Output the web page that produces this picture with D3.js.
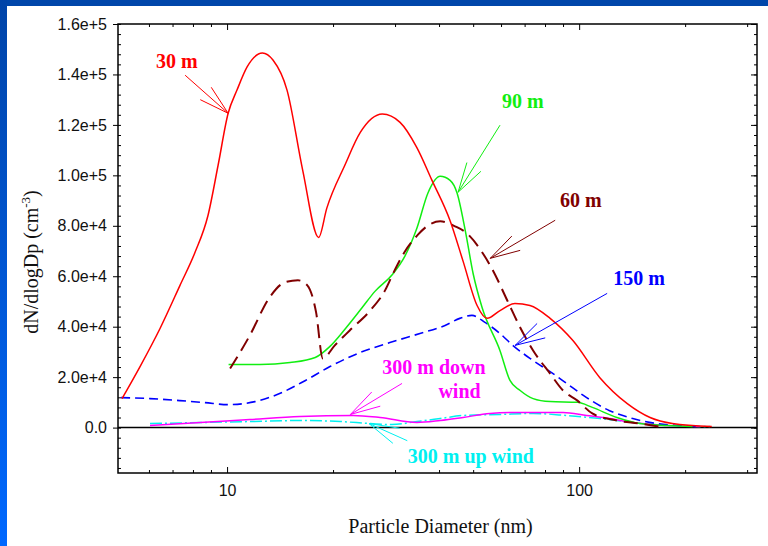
<!DOCTYPE html>
<html>
<head>
<meta charset="utf-8">
<script src="https://cdn.jsdelivr.net/npm/d3@7"></script>
<style>
  body { margin: 0; background: #fff; }
  svg { display: block; }
</style>
</head>
<body>
<svg id="chart" width="768" height="546"></svg>
<script>
// particle size distributions at several distances
var diam30 = [5.03, 5.66, 6.45, 7.35, 8.11, 8.83, 9.43, 10.07, 10.67, 11.4, 12.6, 13.5, 14.8, 16.4, 18.2, 19.2, 21.6, 23.9, 27.6, 31, 34.6, 38.2, 43, 46.8, 51.3, 54.8, 59.6, 65.7, 72.5, 82.7, 96, 114.5, 137, 159, 184, 238];
var n30 = [11500, 24200, 39300, 56400, 69500, 84200, 104000, 124600, 133800, 143000, 148500, 145700, 133800, 102000, 75400, 87000, 104000, 117000, 124300, 121000, 111000, 98000, 82000, 66000, 48400, 43300, 46400, 49200, 48400, 43300, 34500, 19800, 9500, 4000, 1600, 400];

var diam60 = [10.2, 11.6, 13.2, 14.6, 15.9, 16.9, 17.9, 18.7, 20.2, 22.3, 25.5, 28.1, 29.6, 31.9, 34.9, 37.7, 40.3, 44.4, 48, 53.3, 56.9, 62.5, 68, 74, 82.7, 90, 98.9, 109, 128, 149, 169];
var n60 = [23400, 36500, 51600, 57600, 58400, 56400, 45700, 27400, 32500, 38500, 46400, 54400, 61000, 69500, 76600, 80600, 81800, 79800, 77000, 69000, 62300, 50400, 39700, 30600, 21400, 14700, 10700, 5600, 2800, 1600, 400];

var diam90 = [10.1, 12.4, 15.1, 17.8, 19.6, 21.7, 24.2, 26.3, 29.6, 32.0, 34.6, 37.2, 40.3, 43, 45, 47.5, 50, 53, 59.6, 63.6, 68, 74, 82.7, 98.9, 109, 128, 149, 178, 210];
var n90 = [25000, 25000, 25800, 27800, 32200, 39300, 47600, 54000, 61000, 68000, 79000, 93000, 99600, 98000, 93000, 78000, 61000, 47600, 30500, 18700, 14700, 11500, 10300, 10000, 8000, 4000, 1600, 800, 400];

var diam150 = [5.0, 6.04, 7.35, 8.66, 10.07, 12, 14.1, 16.7, 19.6, 23.9, 29.0, 35.3, 41.6, 45.8, 49.6, 54, 59.6, 64.9, 74, 84.3, 92.2, 105, 122, 142, 166, 193, 220];
var n150 = [11900, 11500, 10700, 9900, 9100, 10300, 13500, 18700, 24200, 29800, 33700, 37300, 40500, 43300, 44500, 41700, 37300, 32500, 26600, 21400, 17500, 11900, 6700, 3600, 1600, 800, 400];

var diamDown = [6.04, 8.4, 11.6, 16.1, 22.8, 27.2, 34.6, 40.3, 46.8, 55.8, 68, 90, 105, 122, 142, 178, 220];
var nDown = [800, 2000, 3200, 4400, 4800, 4000, 2000, 2800, 4000, 5600, 6000, 6000, 4800, 3600, 2000, 800, 400];

var diamUp = [6.04, 8.4, 11.6, 16.1, 21, 25.5, 29.4, 34.6, 40.3, 46.8, 59.6, 74, 92, 114.5, 142, 178, 235];
var nUp = [1600, 2000, 2400, 2800, 2400, 1600, 1200, 2400, 3600, 4800, 5200, 5600, 4800, 3600, 2000, 800, 400];

// ticks
var xMajorTicks = [10, 100];
var xTickLabels = ["10", "100"];
var xMinorTicks = [6, 7, 8, 9, 20, 30, 40, 50, 60, 70, 80, 90, 200, 300];
var yMajorTicks = [0, 20000, 40000, 60000, 80000, 100000, 120000, 140000, 160000];
var yTickLabels = ["0.0", "2.0e+4", "4.0e+4", "6.0e+4", "8.0e+4", "1.0e+5", "1.2e+5", "1.4e+5", "1.6e+5"];
var yMinorTicks = d3.range(-16000, 160001, 4000);

var width = 768, height = 546;
var margin = {top: 24, right: 11, bottom: 73, left: 118};

var svg = d3.select("#chart");

// blue slide frame
var grad = svg.append("defs").append("linearGradient")
    .attr("id", "edge").attr("x1", 0).attr("y1", 0).attr("x2", 0).attr("y2", 1);
grad.append("stop").attr("offset", "0%").attr("stop-color", "#0044a8");
grad.append("stop").attr("offset", "100%").attr("stop-color", "#0068ff");
svg.append("rect").attr("x", 0).attr("y", 0).attr("width", width).attr("height", 6).attr("fill", "#0046aa");
svg.append("rect").attr("x", 0).attr("y", 0).attr("width", 7).attr("height", height).attr("fill", "url(#edge)");

var x = d3.scaleLog().domain([4.9, 320]).range([margin.left, width - margin.right]);
var y = d3.scaleLinear().domain([-18000, 160000]).range([height - margin.bottom, margin.top]);

var x0 = x.range()[0], x1 = x.range()[1], y0 = y.range()[0], y1 = y.range()[1];

// minor ticks, all inward
function noDomain(g) { g.select(".domain").remove(); g.selectAll("line").attr("stroke", "#000"); }

svg.append("g").attr("transform", "translate(0," + y0 + ")")
    .call(d3.axisBottom(x).tickValues(xMinorTicks).tickSize(-3).tickFormat(""))
    .call(noDomain);
svg.append("g").attr("transform", "translate(0," + y1 + ")")
    .call(d3.axisTop(x).tickValues(xMinorTicks).tickSize(-3).tickFormat(""))
    .call(noDomain);
svg.append("g").attr("transform", "translate(0," + y1 + ")")
    .call(d3.axisTop(x).tickValues(xMajorTicks).tickSize(-6).tickFormat(""))
    .call(noDomain);
svg.append("g").attr("transform", "translate(" + x0 + ",0)")
    .call(d3.axisLeft(y).tickValues(yMinorTicks).tickSize(-3).tickFormat(""))
    .call(noDomain);
svg.append("g").attr("transform", "translate(" + x1 + ",0)")
    .call(d3.axisRight(y).tickValues(yMinorTicks).tickSize(-3).tickFormat(""))
    .call(noDomain);
svg.append("g").attr("transform", "translate(" + x1 + ",0)")
    .call(d3.axisRight(y).tickValues(yMajorTicks).tickSize(-6).tickFormat(""))
    .call(noDomain);

// labelled axes
var xAxis = svg.append("g").attr("transform", "translate(0," + y0 + ")")
    .call(d3.axisBottom(x).tickValues(xMajorTicks).tickSize(-6).tickPadding(12)
        .tickFormat(function(d, i) { return xTickLabels[i]; }))
    .call(noDomain);
var yAxis = svg.append("g").attr("transform", "translate(" + x0 + ",0)")
    .call(d3.axisLeft(y).tickValues(yMajorTicks).tickSize(5).tickPadding(6)
        .tickFormat(function(d, i) { return yTickLabels[i]; }))
    .call(noDomain);
[xAxis, yAxis].forEach(function(g) {
    g.attr("font-family", "'Liberation Sans', Arial, sans-serif").attr("font-size", 16);
    g.selectAll("text").attr("fill", "#111");
});

// frame and zero line
svg.append("rect")
    .attr("x", x0).attr("y", y1).attr("width", x1 - x0).attr("height", y0 - y1)
    .attr("fill", "none").attr("stroke", "#000").attr("stroke-width", 1.5);
svg.append("line")
    .attr("x1", x0).attr("x2", x1).attr("y1", y(0)).attr("y2", y(0))
    .attr("stroke", "#000").attr("stroke-width", 1.5);

// curves
var series = [
    {d: diamUp, n: nUp, color: "#00f0f0", width: 1.5, dash: "12 3 2 3"},
    {d: diamDown, n: nDown, color: "#ff00ff", width: 1.5, dash: null},
    {d: diam150, n: n150, color: "#0000ff", width: 1.6, dash: "9 5"},
    {d: diam90, n: n90, color: "#11ee11", width: 1.5, dash: null},
    {d: diam60, n: n60, color: "#800000", width: 2, dash: "14 7"},
    {d: diam30, n: n30, color: "#ff0000", width: 1.5, dash: null}
];

var line = d3.line()
    .x(function(p) { return x(p[0]); })
    .y(function(p) { return y(p[1]); })
    .curve(d3.curveMonotoneX);

svg.selectAll("path.curve")
    .data(series)
    .join("path")
    .attr("class", "curve")
    .attr("d", function(s) { return line(d3.zip(s.d, s.n)); })
    .attr("fill", "none")
    .attr("stroke", function(s) { return s.color; })
    .attr("stroke-width", function(s) { return s.width; })
    .attr("stroke-dasharray", function(s) { return s.dash; });

// annotations, placed in data units: label start, arrow tail, arrow tip
var notes = [
    {text: ["30 m"], color: "#ff0000", at: [6.28, 142500], tail: [7.6, 139700], tip: [10.07, 124600]},
    {text: ["90 m"], color: "#11ee11", at: [60.4, 126600], tail: [59.6, 119900], tip: [45.3, 93300]},
    {text: ["60 m"], color: "#800000", at: [88.3, 87300], tail: [85.5, 82200], tip: [55.9, 67100]},
    {text: ["150 m"], color: "#0000ff", at: [124.9, 56400], tail: [120.1, 53200], tip: [65.8, 32600]},
    {text: ["300 m down", "wind"], color: "#ff00ff", at: [27.6, 21400], tail: [31.4, 17500], tip: [22.4, 5200]},
    {text: ["300 m up wind"], color: "#00f0f0", at: [32.6, -13900], tail: [32.5, -5200], tip: [25.3, 1600]}
];

notes.forEach(function(a) {
    var tx = x(a.tip[0]), ty = y(a.tip[1]);
    var sx = x(a.tail[0]), sy = y(a.tail[1]);
    var ang = Math.atan2(sy - ty, sx - tx);
    var g = svg.append("g").attr("stroke", a.color).attr("stroke-width", 1);
    g.append("line").attr("x1", sx).attr("y1", sy).attr("x2", tx).attr("y2", ty);
    [-0.27, 0.27].forEach(function(da) {
        g.append("line")
            .attr("x1", tx).attr("y1", ty)
            .attr("x2", tx + 31 * Math.cos(ang + da))
            .attr("y2", ty + 31 * Math.sin(ang + da));
    });
    var t = svg.append("text")
        .attr("font-family", "'Liberation Serif', 'Times New Roman', serif")
        .attr("font-weight", "bold")
        .attr("font-size", 20)
        .attr("fill", a.color);
    a.text.forEach(function(s, i) {
        t.append("tspan")
            .attr("x", i === 0 ? x(a.at[0]) : null)
            .attr("y", y(a.at[1]) + i * 24)
            .text(s);
    });
    if (a.text.length > 1) {
        // second line right aligned with the first
        var first = t.select("tspan").node().getComputedTextLength();
        var second = t.selectAll("tspan").filter(function(d, i) { return i === 1; });
        second.attr("x", x(a.at[0]) + first - second.node().getComputedTextLength() - 5);
    }
});

// axis titles
svg.append("text")
    .attr("x", (x0 + x1) / 2 + 3).attr("y", 533)
    .attr("text-anchor", "middle")
    .attr("font-family", "'Liberation Serif', 'Times New Roman', serif")
    .attr("font-size", 20)
    .attr("fill", "#111")
    .text("Particle Diameter (nm)");

var yt = svg.append("text")
    .attr("transform", "translate(38,262) rotate(-90)")
    .attr("text-anchor", "middle")
    .attr("font-family", "'Liberation Serif', 'Times New Roman', serif")
    .attr("font-size", 20)
    .attr("fill", "#111");
yt.append("tspan").text("dN/dlogDp (cm");
yt.append("tspan").attr("font-size", 13).attr("dy", -8).text("-3");
yt.append("tspan").attr("dy", 8).text(")");
</script>
</body>
</html>
